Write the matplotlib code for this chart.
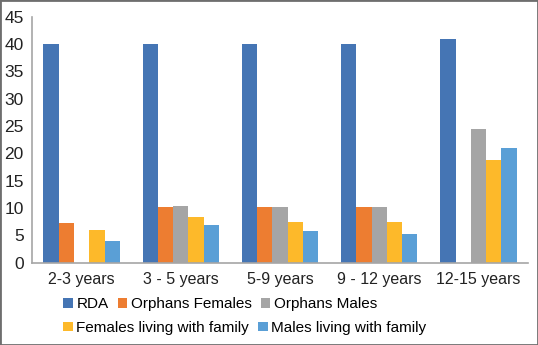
import numpy as np
import matplotlib
matplotlib.use("Agg")
import matplotlib.pyplot as plt
from matplotlib.patches import Rectangle

# data
categories = ['2-3 years', '3 - 5 years', '5-9 years', '9 - 12 years', '12-15 years']
series_names = ['RDA', 'Orphans Females', 'Orphans Males',
                'Females living with family', 'Males living with family']
rda = [40, 40, 40, 40, 41]
orphans_females = [7.3, 10.1, 10.1, 10.1, 0]
orphans_males = [0, 10.4, 10.2, 10.2, 24.5]
females_family = [5.9, 8.4, 7.4, 7.4, 18.8]
males_family = [3.9, 6.8, 5.7, 5.3, 21.0]
colors = ['#4575B4', '#ED7D31', '#A5A5A5', '#FDB92A', '#5A9FD6']

plt.rcParams['font.family'] = ['Liberation Sans', 'DejaVu Sans']

fig = plt.figure(figsize=(5.38, 3.45), dpi=100)
ax = fig.add_axes([0.0595, 0.239, 0.922, 0.712])

x = np.arange(len(categories))
w = 0.154
all_series = [rda, orphans_females, orphans_males, females_family, males_family]
bars = []
for i, vals in enumerate(all_series):
    b = ax.bar(x + (i - 2) * w, vals, width=w, color=colors[i], label=series_names[i])
    bars.append(b)

ax.set_xlim(-0.5, len(categories) - 0.5)
ax.set_ylim(0, 45)
ax.set_yticks(range(0, 46, 5))
ax.set_xticks(x)
ax.set_xticklabels(categories)
ax.tick_params(axis='x', length=0, labelsize=11.5, colors='#222222', pad=7)
ax.tick_params(axis='y', length=0, labelsize=12.5, colors='#222222', pad=6)
for s in ['top', 'right']:
    ax.spines[s].set_visible(False)
for s in ['left', 'bottom']:
    ax.spines[s].set_color('#A6A6A6')
    ax.spines[s].set_linewidth(1.2)

leg_kw = dict(frameon=False, fontsize=11, handlelength=0.6, handleheight=0.6,
              handletextpad=0.25, columnspacing=0.6, borderpad=0, borderaxespad=0)
fig.legend([bars[0], bars[1], bars[2]], series_names[:3], ncol=3,
           loc='center left', bbox_to_anchor=(0.118, 0.118), **leg_kw)
fig.legend([bars[3], bars[4]], series_names[3:], ncol=2,
           loc='center left', bbox_to_anchor=(0.118, 0.05), **leg_kw)

# thin gray frame around the whole picture
fig.patches.append(Rectangle((0, 0), 1, 1, transform=fig.transFigure,
                             fill=False, edgecolor='#6E6E6E', linewidth=2))

fig.savefig('out.png', dpi=100)
